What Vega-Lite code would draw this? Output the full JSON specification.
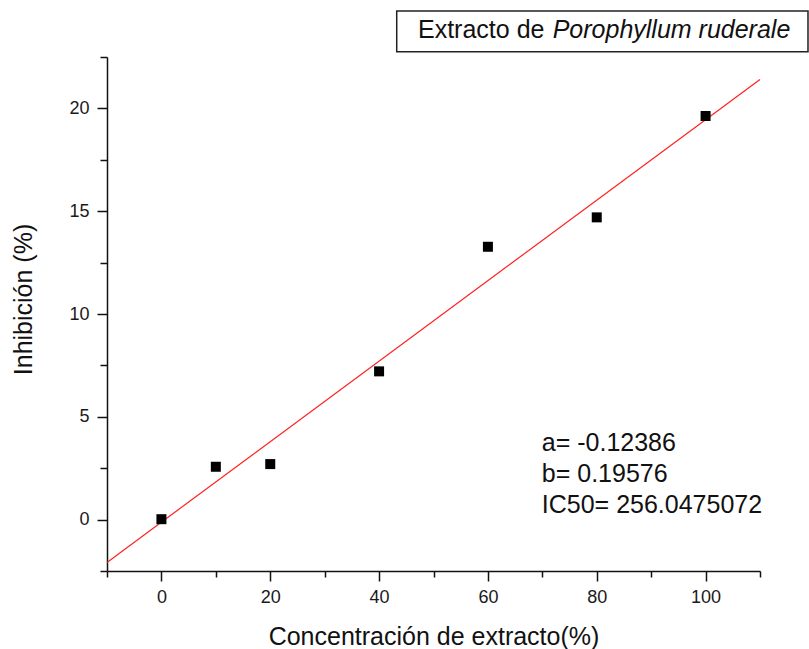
{
  "$schema": "https://vega.github.io/schema/vega-lite/v6.json",
  "autosize": {"type": "none"},
  "padding": {"left": 107, "top": 57, "right": 49, "bottom": 78},
  "width": 653,
  "height": 514,
  "background": "white",
  "config": {
    "view": {"stroke": null},
    "font": "Liberation Sans",
    "axis": {
      "domainColor": "#111111",
      "domainWidth": 1.5,
      "tickColor": "#111111",
      "tickWidth": 1.5,
      "grid": false,
      "labelFont": "Liberation Sans",
      "labelFontSize": 18,
      "labelColor": "#1a1a1a",
      "titleFont": "Liberation Sans",
      "titleFontSize": 25,
      "titleFontWeight": "normal",
      "titleColor": "#111111"
    }
  },
  "datasets": {
    "pts": [
      {"conc": 0, "inh": 0.02},
      {"conc": 10, "inh": 2.57},
      {"conc": 20, "inh": 2.7},
      {"conc": 40, "inh": 7.21},
      {"conc": 60, "inh": 13.27},
      {"conc": 80, "inh": 14.7},
      {"conc": 100, "inh": 19.63}
    ],
    "fit": [
      {"conc": -10, "inh": -2.08146},
      {"conc": 110, "inh": 21.40974}
    ],
    "notes": [
      {"conc": 69.9, "inh": 3.35, "label": "a= -0.12386"},
      {"conc": 69.9, "inh": 1.84, "label": "b= 0.19576"},
      {"conc": 69.9, "inh": 0.31, "label": "IC50= 256.0475072"}
    ],
    "box": [
      {"x1": 43.24, "x2": 118.82, "y1": 22.76, "y2": 24.74}
    ],
    "boxTextNormal": [
      {"conc": 47.15, "inh": 23.44, "label": "Extracto de "}
    ],
    "boxTextItalic": [
      {"conc": 71.9, "inh": 23.44, "label": "Porophyllum ruderale"}
    ]
  },
  "layer": [
    {
      "data": {"name": "fit"},
      "mark": {"type": "line", "color": "#ff2020", "strokeWidth": 1.2},
      "encoding": {
        "x": {
          "field": "conc",
          "type": "quantitative",
          "scale": {"domain": [-10, 110], "nice": false, "zero": false},
          "axis": {
            "title": "Concentración de extracto(%)",
            "values": [-10, 0, 10, 20, 30, 40, 50, 60, 70, 80, 90, 100, 110],
            "labelExpr": "datum.value % 20 === 0 ? datum.label : ''",
            "tickSize": {"condition": {"test": "datum.value % 20 === 0", "value": 10}, "value": 6},
            "labelPadding": 7,
            "labelFlush": false,
            "labelOverlap": false,
            "titleY": 73,
            "titleBaseline": "alphabetic"
          }
        },
        "y": {
          "field": "inh",
          "type": "quantitative",
          "scale": {"domain": [-2.5, 22.5], "nice": false, "zero": false},
          "axis": {
            "title": "Inhibición (%)",
            "values": [-2.5, 0, 2.5, 5, 7.5, 10, 12.5, 15, 17.5, 20, 22.5],
            "labelExpr": "datum.value % 5 === 0 ? datum.label : ''",
            "tickSize": {"condition": {"test": "datum.value % 5 === 0", "value": 10}, "value": 7},
            "labelPadding": 8,
            "labelFlush": false,
            "labelOverlap": false,
            "titleX": -76,
            "titleY": 242,
            "titleBaseline": "alphabetic",
            "titleAngle": -90
          }
        }
      }
    },
    {
      "data": {"name": "pts"},
      "mark": {"type": "point", "shape": "square", "filled": true, "color": "black", "size": 100, "opacity": 1},
      "encoding": {
        "x": {"field": "conc", "type": "quantitative"},
        "y": {"field": "inh", "type": "quantitative"}
      }
    },
    {
      "data": {"name": "notes"},
      "mark": {"type": "text", "align": "left", "baseline": "alphabetic", "fontSize": 25, "color": "#111111", "font": "Liberation Sans"},
      "encoding": {
        "x": {"field": "conc", "type": "quantitative"},
        "y": {"field": "inh", "type": "quantitative"},
        "text": {"field": "label"}
      }
    },
    {
      "data": {"name": "box"},
      "mark": {"type": "rect", "fill": "white", "stroke": "#222222", "strokeWidth": 1.5},
      "encoding": {
        "x": {"field": "x1", "type": "quantitative"},
        "x2": {"field": "x2"},
        "y": {"field": "y1", "type": "quantitative"},
        "y2": {"field": "y2"}
      }
    },
    {
      "data": {"name": "boxTextNormal"},
      "mark": {"type": "text", "align": "left", "baseline": "alphabetic", "fontSize": 25, "color": "#111111", "font": "Liberation Sans"},
      "encoding": {
        "x": {"field": "conc", "type": "quantitative"},
        "y": {"field": "inh", "type": "quantitative"},
        "text": {"field": "label"}
      }
    },
    {
      "data": {"name": "boxTextItalic"},
      "mark": {"type": "text", "align": "left", "baseline": "alphabetic", "fontSize": 25, "fontStyle": "italic", "color": "#111111", "font": "Liberation Sans"},
      "encoding": {
        "x": {"field": "conc", "type": "quantitative"},
        "y": {"field": "inh", "type": "quantitative"},
        "text": {"field": "label"}
      }
    }
  ]
}
